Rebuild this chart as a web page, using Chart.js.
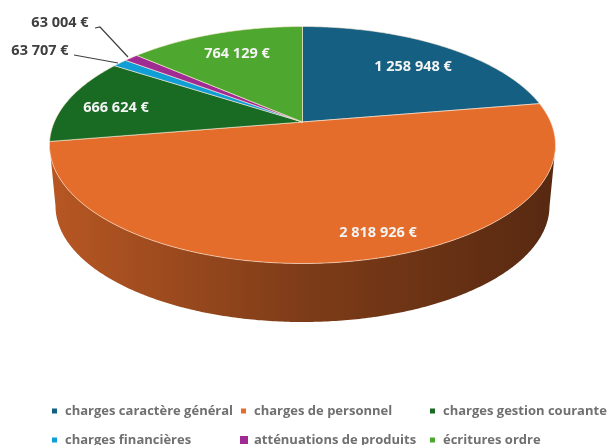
<!DOCTYPE html>
<html>
<head>
<meta charset="utf-8">
<script src="https://cdn.jsdelivr.net/npm/chart.js@4/dist/chart.umd.min.js"></script>
<style>
html, body { margin: 0; padding: 0; background: #fff; }
canvas { display: block; filter: blur(0.6px); }
</style>
</head>
<body>
<canvas id="chart" width="613" height="445"></canvas>
<script>
const categories = ['charges caractère général', 'charges de personnel', 'charges gestion courante',
    'charges financières', 'atténuations de produits', 'écritures ordre'];
const amounts = [1258948, 2818926, 666624, 63707, 63004, 764129];
const sliceColors = ['#156082', '#E56D2C', '#196B24', '#0F9ED5', '#A02B93', '#4EA72E'];
const wallShades = [0.8, 0.55, 0.38];

// look of the tilted pie: top face, bottom face, vanishing shift of the centre
const top3d = { cx: 302.5, cy: 145, rx: 253, ry: 118.5 };
const bottom3d = { cx: 302.5, cy: 206, rx: 247, ry: 116 };
const shift = -0.194;

const labelSpots = [[413, 67], [378, 233], [116, 108], [40, 51], [60, 23], [237, 54]];
const legendCols = [65, 254, 443];
const legendRows = [411, 440];

function project(face, angle) {
    const u = Math.cos(angle), v = Math.sin(angle);
    const d = 1 + shift * v;
    return {
        x: face.cx + face.rx * u * Math.sqrt(1 - shift * shift) / d,
        y: face.cy + face.ry * (v + shift) / d,
        front: (v + shift) >= 0
    };
}

function samples(arc) {
    const pts = [];
    const n = Math.max(2, Math.ceil((arc.endAngle - arc.startAngle) / 0.01));
    for (let i = 0; i <= n; i++) {
        pts.push(arc.startAngle + (arc.endAngle - arc.startAngle) * i / n);
    }
    return pts;
}

function shade(hex, k) {
    const r = parseInt(hex.slice(1, 3), 16), g = parseInt(hex.slice(3, 5), 16), b = parseInt(hex.slice(5, 7), 16);
    return 'rgb(' + Math.round(r * k) + ',' + Math.round(g * k) + ',' + Math.round(b * k) + ')';
}

const pie3d = {
    id: 'pie3d',
    beforeDatasetsDraw(chart) {
        const ctx = chart.ctx;
        const arcs = chart.getDatasetMeta(0).data;
        // side wall
        arcs.forEach((arc, i) => {
            const angles = samples(arc).filter(a => project(top3d, a).front);
            if (angles.length < 2) return;
            const grad = ctx.createLinearGradient(top3d.cx - top3d.rx, 0, top3d.cx + top3d.rx, 0);
            wallShades.forEach((k, j) => grad.addColorStop(j / (wallShades.length - 1), shade(sliceColors[i], k)));
            ctx.beginPath();
            angles.forEach((a, j) => {
                const p = project(top3d, a);
                if (j == 0) ctx.moveTo(p.x, p.y); else ctx.lineTo(p.x, p.y);
            });
            angles.slice().reverse().forEach(a => {
                const p = project(bottom3d, a);
                ctx.lineTo(p.x, p.y);
            });
            ctx.closePath();
            ctx.fillStyle = grad;
            ctx.fill();
        });
        // top face
        const apexX = top3d.cx, apexY = top3d.cy + top3d.ry * shift;
        arcs.forEach((arc, i) => {
            ctx.beginPath();
            ctx.moveTo(apexX, apexY);
            samples(arc).forEach(a => {
                const p = project(top3d, a);
                ctx.lineTo(p.x, p.y);
            });
            ctx.closePath();
            ctx.fillStyle = sliceColors[i];
            ctx.fill();
            ctx.strokeStyle = 'rgba(255,235,215,0.6)';
            ctx.lineWidth = 1;
            ctx.stroke();
        });
        return false;
    },
    afterDraw(chart) {
        const ctx = chart.ctx;
        ctx.save();
        // leader lines
        ctx.strokeStyle = '#404040';
        ctx.lineWidth = 1.2;
        ctx.beginPath();
        ctx.moveTo(95, 28); ctx.lineTo(100, 27); ctx.lineTo(128, 57);
        ctx.moveTo(74, 55); ctx.lineTo(118, 63);
        ctx.stroke();
        // value labels
        ctx.font = 'bold 14.5px "Open Sans"';
        ctx.textAlign = 'center';
        ctx.textBaseline = 'middle';
        amounts.forEach((val, i) => {
            const txt = val.toLocaleString('fr-FR').replace(/[\u202f\u00a0]/g, ' ') + ' €';
            ctx.fillStyle = (i == 3 || i == 4) ? '#404040' : '#f4f4f4';
            ctx.fillText(txt, labelSpots[i][0], labelSpots[i][1]);
        });
        // legend
        ctx.textAlign = 'left';
        ctx.font = 'bold 13px "Open Sans"';
        categories.forEach((name, i) => {
            const x = legendCols[i % 3], y = legendRows[Math.floor(i / 3)];
            const size = i == 4 ? 8 : 5;
            ctx.fillStyle = sliceColors[i];
            ctx.fillRect(x - 8 - size - (i == 4 ? -2 : 0), y - size / 2, size, size);
            ctx.fillStyle = '#707070';
            ctx.fillText(name, x, y);
        });
        ctx.restore();
    }
};

new Chart(document.getElementById('chart'), {
    type: 'pie',
    data: {
        labels: categories,
        datasets: [{ data: amounts, backgroundColor: sliceColors }]
    },
    options: {
        responsive: false,
        animation: false,
        plugins: { legend: { display: false }, tooltip: { enabled: false } }
    },
    plugins: [pie3d]
});
</script>
</body>
</html>
